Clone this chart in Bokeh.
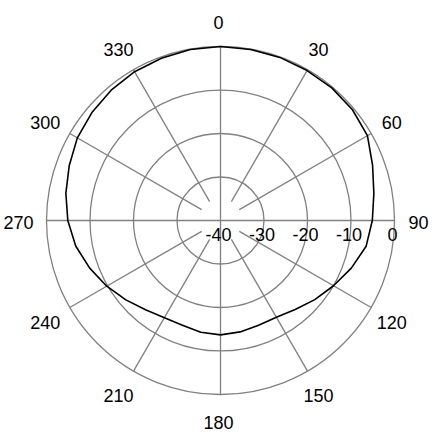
import numpy as np
from bokeh.plotting import figure
from bokeh.embed import file_html
from bokeh.resources import INLINE
from bokeh.core.properties import value

# ---- data ----
angles_deg = [0, 10, 20, 30, 40, 50, 60, 70, 80, 90, 100, 110, 120, 130, 140, 150, 160, 170,
              180, 190, 200, 210, 220, 230, 240, 250, 260, 270, 280, 290, 300, 310, 320, 330, 340, 350]
gain_db = [0.0, -0.1, -0.1, -0.2, -0.2, -0.4, -1.0, -2.8, -4.2, -5.1, -6.0, -8.0, -10.0, -11.7, -13.3, -14.3, -14.4, -14.0,
           -13.7, -13.9, -14.4, -14.2, -13.2, -11.6, -9.8, -8.0, -6.2, -4.9, -3.9, -3.0, -2.0, -1.4, -0.9, -0.5, -0.3, -0.1]
ring_db = [-30, -20, -10, 0]
radial_tick_db = [-40, -30, -20, -10, 0]
radial_tick_labels = ["-40", "-30", "-20", "-10", "0"]
spoke_angles = [0, 30, 60, 90, 120, 150, 180, 210, 240, 270, 300, 330]
angle_labels = ["0", "30", "60", "90", "120", "150", "180", "210", "240", "270", "300", "330"]

# ---- scale ----
R_MIN, R_MAX = -40.0, 0.0
R_PX = 174.0
SPOKE_START_DB = -35.0
LABEL_R = 200.0
GRID = "#808080"
FONT = value("Liberation Sans")


def rad(db):
    return (np.asarray(db, dtype=float) - R_MIN) / (R_MAX - R_MIN) * R_PX


def to_xy(theta_deg, r):
    t = np.radians(np.asarray(theta_deg, dtype=float))
    return r * np.sin(t), r * np.cos(t)


p = figure(width=433, height=433, x_range=(-220, 213), y_range=(-213, 220),
           min_border=0, toolbar_location=None, output_backend="svg",
           x_axis_type=None, y_axis_type=None)
p.grid.visible = False
p.outline_line_color = None
p.background_fill_color = "white"

# rings
for db in ring_db:
    p.circle(x=0, y=0, radius=float(rad(db)), fill_color=None, line_color=GRID, line_width=1.3)

# spokes
xs, ys = [], []
for a in spoke_angles:
    r0 = 0.0 if a % 90 == 0 else float(rad(SPOKE_START_DB))
    x0, y0 = to_xy(a, r0)
    x1, y1 = to_xy(a, R_PX)
    xs.append([float(x0), float(x1)])
    ys.append([float(y0), float(y1)])
p.multi_line(xs=xs, ys=ys, line_color=GRID, line_width=1.3)

# data curve
th = angles_deg + [angles_deg[0] + 360]
g = gain_db + [gain_db[0]]
cx, cy = to_xy(th, rad(g))
p.line(cx, cy, line_color="black", line_width=1.6, line_join="round")

# angle labels
lx, ly = to_xy(spoke_angles, LABEL_R)
p.text(x=lx, y=ly, text=angle_labels, text_font=FONT, text_font_size="18px",
       text_align="center", text_baseline="middle", text_color="black",
       x_offset=-2, y_offset=2)

# radial labels
rx = rad(radial_tick_db)
p.text(x=rx, y=[0.0] * len(rx), text=radial_tick_labels, text_font=FONT, text_font_size="18px",
       text_align="center", text_baseline="middle", text_color="black",
       x_offset=-2, y_offset=14)

open("out.html", "w").write(file_html(p, INLINE))
